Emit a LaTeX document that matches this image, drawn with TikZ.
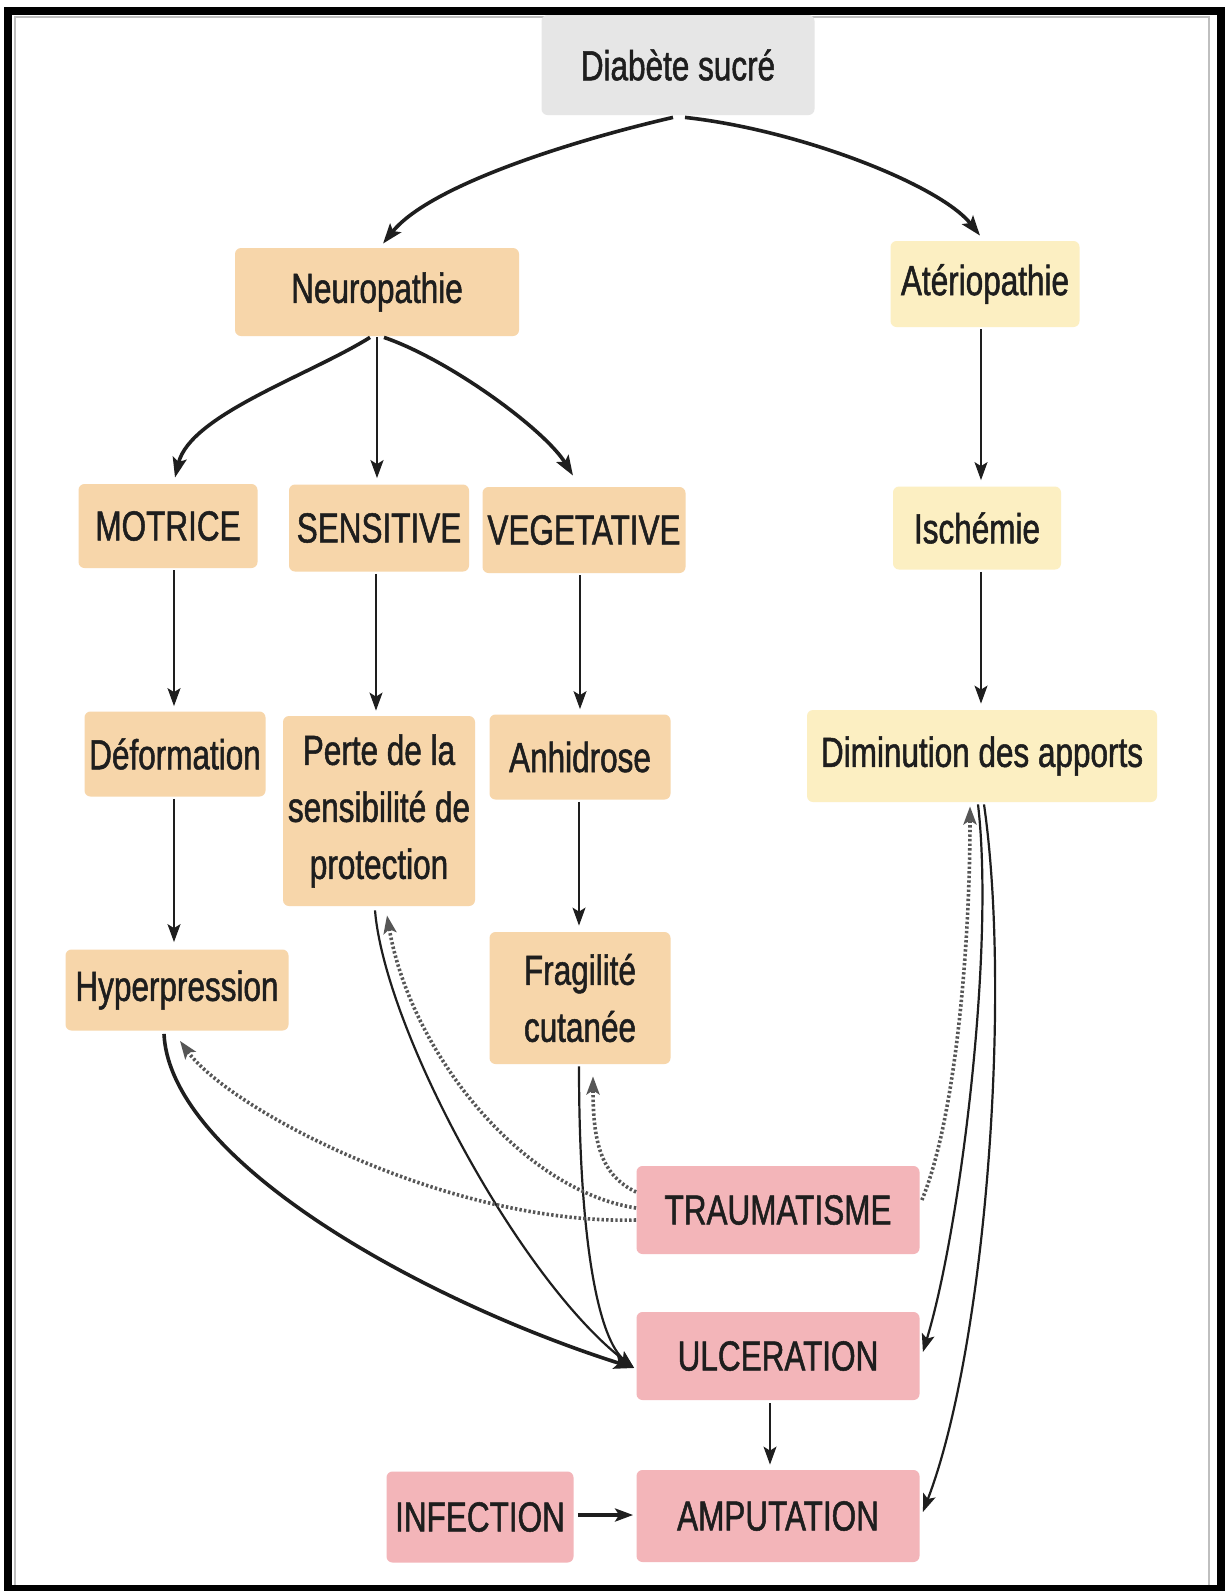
\documentclass[tikz,border=0pt]{standalone}
\usepackage{fontspec}
\setmainfont[FakeStretch=0.75,FakeBold=1.2]{Liberation Sans}
\usetikzlibrary{arrows.meta,calc}
\definecolor{peach}{HTML}{F7D6AA}
\definecolor{lyellow}{HTML}{FCEFC2}
\definecolor{lpink}{HTML}{F3B5B9}
\definecolor{lgray}{HTML}{E6E6E6}
\definecolor{ink}{HTML}{1E1E1E}
\begin{document}
\begin{tikzpicture}[x=0.5pt,y=-0.5pt,
  sz/.style 2 args={minimum width=#1*0.5pt,minimum height=#2*0.5pt},
  box/.style={rounded corners=3pt, inner sep=0pt, align=center, text=ink,
    font=\fontsize{21}{28.5}\selectfont},
  neu/.style={box, fill=peach},
  art/.style={box, fill=lyellow},
  res/.style={box, fill=lpink},
  arr/.style={draw=ink, line width=0.8pt, -{Stealth[length=9pt,width=6.5pt,inset=2pt]}},
  thk/.style={arr, line width=1.8pt, -{Stealth[length=10pt,width=7pt,inset=2pt]}},
  mid/.style={arr, line width=1.1pt},
  dots/.style={draw=ink!75, line width=1.8pt, dash pattern=on 1.2pt off 1.1pt,
    -{Stealth[length=9pt,width=6.5pt,inset=2pt]}},
]
\useasboundingbox (0,0) rectangle (1225,1591);
\fill[white] (0,0) rectangle (1225,1591);
% frame
\draw[gray!50, line width=1pt] (15,17) rectangle (1209,1586);
\draw[black, line width=4pt] (8,11) rectangle (1220.5,1589);

% nodes
\node[box, fill=lgray, sz={273}{100}] (diab) at (678,65) {Diabète sucré};
\node[neu, sz={284}{88}] (neuro) at (377,292) {Neuropathie};
\node[art, sz={189}{86}] (ater) at (985,284) {Atériopathie};
\node[neu, sz={179}{84}] (motr) at (168,526) {MOTRICE};
\node[neu, sz={180}{87}] (sens) at (379,528) {SENSITIVE};
\node[neu, sz={203}{86}] (vege) at (584,530) {VEGETATIVE};
\node[art, sz={168}{83}] (isch) at (977,528) {Ischémie};
\node[neu, sz={181}{85}] (defo) at (175,754) {Déformation};
\node[neu, sz={192}{190}] (perte) at (379,811) {Perte de la\\sensibilité de\\protection};
\node[neu, sz={181}{85}] (anhi) at (580,757) {Anhidrose};
\node[art, sz={350}{92}] (dimi) at (982,756) {Diminution des apports};
\node[neu, sz={223}{81}] (hyper) at (177,990) {Hyperpression};
\node[neu, sz={181}{132}] (fragi) at (580,998) {Fragilité\\cutanée};
\node[res, sz={283}{88}] (trauma) at (778,1210) {TRAUMATISME};
\node[res, sz={283}{88}] (ulcer) at (778,1356) {ULCERATION};
\node[res, sz={283}{92}] (ampu) at (778,1516) {AMPUTATION};
\node[res, sz={187}{91}] (infec) at (480,1517) {INFECTION};

% top arrows
\draw[thk] ($(diab.south)+(-5,2)$) .. controls (575,140) and (430,185) .. ($(neuro.north)+(6,-4)$);
\draw[thk] ($(diab.south)+(7,2)$) .. controls (800,130) and (940,185) .. ($(ater.north)+(-5,-5)$);
\draw[thk] ($(neuro.south)+(-7,1)$) .. controls (310,375) and (190,415) .. ($(motr.north)+(7,-6)$);
\draw[mid] ($(neuro.south)+(0,1)$) -- ($(sens.north)+(-2,-6)$);
\draw[thk] ($(neuro.south)+(7,1)$) .. controls (450,360) and (545,430) .. ($(vege.north)+(-11,-11)$);

% verticals
\draw[arr] ($(motr.south)+(6,2)$) -- ($(defo.north)+(-1,-5)$);
\draw[arr] ($(sens.south)+(-3,2)$) -- ($(perte.north)+(-3,-5)$);
\draw[arr] ($(vege.south)+(-4,2)$) -- ($(anhi.north)+(0,-5)$);
\draw[arr] ($(ater.south)+(-4,2)$) -- ($(isch.north)+(4,-6)$);
\draw[arr] ($(isch.south)+(4,2)$) -- ($(dimi.north)+(-1,-6)$);
\draw[arr] ($(defo.south)+(-1,2)$) -- ($(hyper.north)+(-3,-7)$);
\draw[arr] ($(anhi.south)+(-1,2)$) -- ($(fragi.north)+(-1,-6)$);
\draw[arr] ($(ulcer.south)+(-8,3)$) -- ($(ampu.north)+(-8,-5)$);
\draw[arr, line width=2.2pt] ($(infec.east)+(4,-2)$) -- ($(ampu.west)+(-3,-1)$);

% convergence on ULCERATION
\draw[thk] ($(hyper.south)+(-13,3)$) .. controls (170,1160) and (420,1300) .. ($(ulcer.west)+(-2,12)$);
\draw[mid] ($(perte.south)+(-4,4)$) .. controls (385,1030) and (520,1280) .. ($(ulcer.west)+(-2,12)$);
\draw[mid] ($(fragi.south)+(-1,2)$) .. controls (579,1250) and (600,1340) .. ($(ulcer.west)+(-2,12)$);
\draw[mid] ($(dimi.south)+(-4,2)$) .. controls (995,950) and (960,1230) .. ($(ulcer.east)+(3,-4)$);
\draw[mid] ($(dimi.south)+(2,2)$) .. controls (1012,1000) and (985,1350) .. ($(ampu.east)+(3,-4)$);

% dotted from TRAUMATISME
\draw[dots] ($(trauma.east)+(2,-10)$) .. controls (955,1120) and (970,950) .. ($(dimi.south)+(-12,4)$);
\draw[dots] ($(trauma.west)+(0,-18)$) .. controls (600,1175) and (593,1140) .. ($(fragi.south)+(13,12)$);
\draw[dots] ($(trauma.west)+(0,-2)$) .. controls (520,1190) and (410,1050) .. ($(perte.south)+(8,9)$);
\draw[dots] ($(trauma.west)+(0,10)$) .. controls (450,1225) and (230,1110) .. ($(hyper.south)+(3,10)$);
\end{tikzpicture}
\end{document}
